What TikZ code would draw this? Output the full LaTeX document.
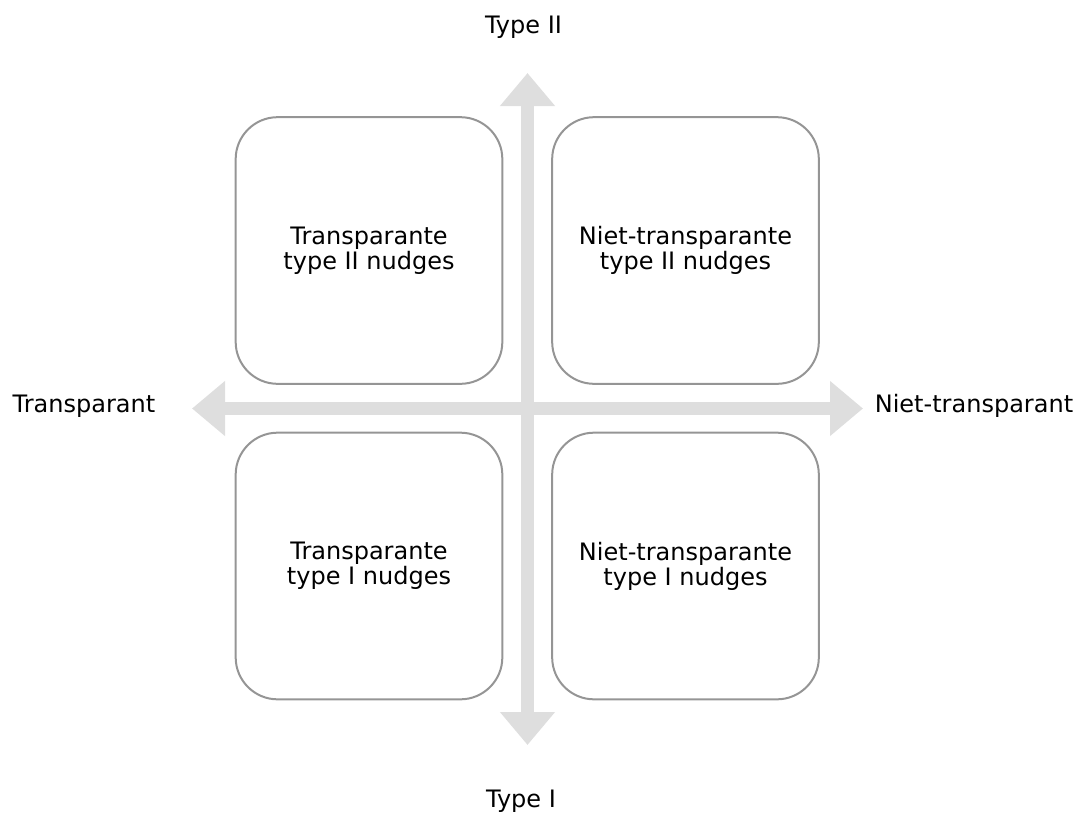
\documentclass[tikz,border=0pt]{standalone}
\usepackage{fontspec}
\setmainfont{DejaVu Sans}
\usetikzlibrary{arrows.meta}
\definecolor{axisgray}{HTML}{DEDEDE}
\definecolor{boxgray}{HTML}{959595}
\begin{document}
\begin{tikzpicture}[x=0.75pt,y=-0.75pt,line join=round,
  quad/.style={draw=boxgray,line width=1.5pt,rounded corners=31.5pt,
    minimum width=200pt,minimum height=200pt,inner sep=0pt,align=center,
    font=\fontsize{18}{18.75}\selectfont},
  axis/.style={draw=axisgray,line width=9.75pt,
    {Triangle[width=39.75pt,length=24.75pt]}-{Triangle[width=39.75pt,length=24.75pt]}},
  lbl/.style={anchor=base,font=\fontsize{18}{18.75}\selectfont}]
  \useasboundingbox (0,0) rectangle (1082,814);
  % axes
  \coordinate (top) at (527.5,73);
  \coordinate (bottom) at (527.5,745);
  \coordinate (left) at (192,408.5);
  \coordinate (right) at (863,408.5);
  \draw[axis] (left) -- (right);
  \draw[axis] (bottom) -- (top);
  \node[lbl] (typeII) at (523.5,33) {Type II};
  \node[lbl] (typeI) at (521,807) {Type I};
  \node[lbl] (transp) at (84,412) {Transparant};
  \node[lbl] (niettransp) at (974,412) {Niet-transparant};
  % quadrants
  \node[quad] (tl) at (369,250.5) {Transparante\\type II nudges};
  \node[quad] (tr) at (685.5,250.5) {Niet-transparante\\type II nudges};
  \node[quad] (bl) at (369,566) {Transparante\\type I nudges};
  \node[quad] (br) at (685.5,566) {Niet-transparante\\type I nudges};
\end{tikzpicture}
\end{document}
